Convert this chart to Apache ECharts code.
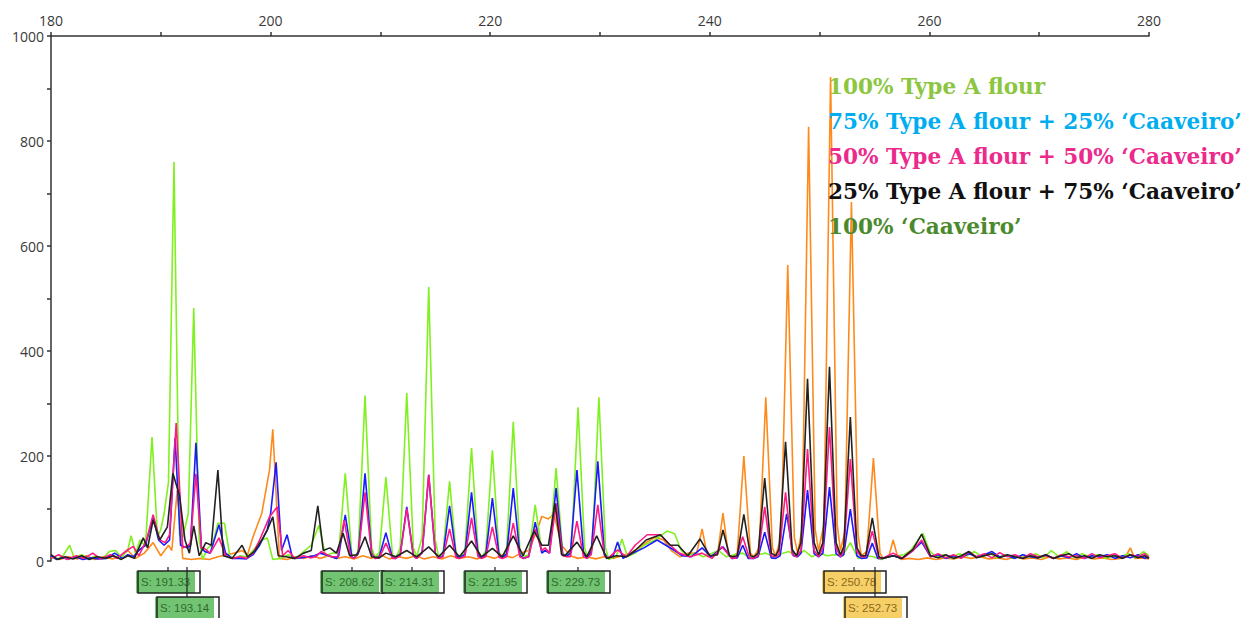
<!DOCTYPE html>
<html>
<head>
<meta charset="utf-8">
<script src="https://cdn.jsdelivr.net/npm/echarts@6/dist/echarts.min.js"></script>
<style>
html,body{margin:0;padding:0;background:#fff;}
#chart{width:1243px;height:618px;}
</style>
</head>
<body>
<div id="chart"></div>
<script>
// ---- data (fragment size in bp, fluorescence units) ----
const xTicks = [180, 200, 220, 240, 260, 280];
const yTicks = [0, 200, 400, 600, 800, 1000];

const seriesNames = [
  "100% Type A flour",
  "75% Type A flour + 25% \u2018Caaveiro\u2019",
  "50% Type A flour + 50% \u2018Caaveiro\u2019",
  "25% Type A flour + 75% \u2018Caaveiro\u2019",
  "100% \u2018Caaveiro\u2019"
];

const greenTrace = [[180,8],[180.5,3],[181.1,10],[181.7,30],[182.1,6],[182.8,12],[183.4,4],[184.1,10],[184.7,4],[185.3,18],[185.9,20],[186.4,6],[187.0,22],[187.3,48],[187.7,14],[188.1,40],[188.6,28],[189.2,236],[189.7,46],[190.0,60],[190.3,90],[190.7,150],[191.2,760],[191.7,50],[192.0,45],[192.5,90],[193.0,482],[193.5,40],[193.8,3],[194.3,25],[194.7,30],[195.2,72],[195.8,72],[196.3,8],[196.8,5],[197.2,10],[197.9,8],[198.6,25],[199.2,40],[199.7,44],[200.2,3],[200.9,5],[201.6,12],[202.3,4],[203.0,18],[203.7,30],[204.4,68],[205.0,10],[205.6,15],[206.2,16],[206.8,167],[207.4,12],[207.9,10],[208.0,30],[208.6,315],[209.2,25],[209.5,8],[209.9,16],[210.5,160],[211.1,12],[211.4,5],[211.8,25],[212.4,320],[213.0,25],[213.3,8],[213.8,45],[214.4,522],[215.0,40],[215.3,8],[215.7,15],[216.3,152],[216.9,12],[217.2,5],[217.7,20],[218.3,215],[218.9,18],[219.2,5],[219.6,20],[220.2,211],[220.8,18],[221.1,5],[221.5,25],[222.1,265],[222.7,22],[223.0,8],[223.5,12],[224.1,107],[224.7,18],[225.0,20],[225.4,18],[226.0,177],[226.6,15],[227.0,8],[227.4,25],[228.0,293],[228.6,25],[228.9,5],[229.3,25],[229.9,312],[230.5,25],[230.8,3],[231.5,10],[232.0,42],[232.5,8],[233.2,15],[234.0,30],[235.0,40],[236.1,57],[236.8,52],[237.4,20],[238.0,10],[238.7,15],[239.4,8],[240.1,14],[240.8,20],[241.5,8],[242.2,12],[243.0,15],[243.7,5],[244.4,12],[245.1,15],[245.8,8],[246.5,14],[247.2,18],[247.9,10],[248.6,20],[249.3,8],[250.0,15],[250.7,10],[251.4,12],[252.1,10],[252.8,35],[253.5,5],[254.2,10],[254.9,8],[255.6,3],[256.3,8],[257.0,10],[257.7,12],[258.3,20],[258.8,35],[259.4,53],[260.0,20],[260.6,8],[261.3,12],[262.0,6],[262.7,14],[263.4,10],[264.1,18],[264.8,8],[265.5,14],[266.2,6],[266.9,12],[267.6,5],[268.3,10],[269.0,8],[269.7,14],[270.4,6],[271.1,20],[271.8,8],[272.5,18],[273.2,6],[273.9,14],[274.6,8],[275.3,12],[276.0,5],[276.7,10],[277.4,8],[278.1,14],[278.8,6],[279.5,18],[280,10]];

const blueTrace = [[180,10],[180.5,3],[181.0,6],[181.6,4],[182.2,8],[182.9,3],[183.6,6],[184.3,4],[185.0,5],[185.8,15],[186.5,5],[187.0,12],[187.5,8],[188.0,20],[188.6,30],[189.3,84],[189.8,40],[190.3,30],[190.8,40],[191.3,234],[191.8,30],[192.4,25],[192.7,30],[193.2,225],[193.7,25],[194.0,18],[194.5,15],[195.3,69],[195.9,15],[196.5,5],[197.2,5],[197.8,4],[198.4,12],[199.0,30],[199.7,60],[200.0,90],[200.5,188],[201.0,20],[201.5,50],[202.0,5],[202.7,6],[203.4,8],[204.0,10],[204.5,15],[205.3,10],[206.0,5],[206.2,10],[206.8,88],[207.4,8],[207.6,5],[208.0,18],[208.6,167],[209.2,15],[209.5,5],[209.9,8],[210.5,54],[211.1,6],[211.4,5],[211.8,12],[212.4,103],[213.0,10],[213.3,5],[213.8,16],[214.4,164],[215.0,15],[215.3,5],[215.7,10],[216.3,105],[216.9,10],[217.2,5],[217.7,13],[218.3,131],[218.9,12],[219.2,5],[219.6,12],[220.2,120],[220.8,12],[221.1,5],[221.5,14],[222.1,139],[222.7,12],[223.0,5],[223.5,8],[224.1,74],[224.7,15],[225.0,20],[225.4,15],[226.0,139],[226.6,12],[227.0,10],[227.3,15],[227.9,173],[228.5,15],[228.8,5],[229.2,18],[229.8,190],[230.4,15],[230.7,5],[231.2,10],[231.6,36],[232.1,5],[233.0,15],[234.0,25],[235.2,40],[236.0,30],[236.8,20],[237.5,10],[238.3,8],[239.3,25],[240.1,8],[241.2,27],[242.0,5],[242.5,6],[243.0,30],[243.5,5],[244.0,5],[244.4,8],[245.0,55],[245.6,6],[246.0,5],[246.4,10],[247.0,90],[247.6,10],[248.0,8],[248.3,15],[248.9,135],[249.5,14],[249.9,8],[250.3,15],[250.9,141],[251.5,14],[251.9,8],[252.2,12],[252.8,99],[253.4,10],[253.8,5],[254.3,6],[254.8,34],[255.3,5],[255.7,5],[256.7,10],[257.5,5],[258.5,20],[259.3,36],[260.1,8],[260.8,12],[261.5,5],[262.2,10],[262.9,6],[263.6,14],[264.3,8],[265.0,12],[265.7,18],[266.4,8],[267.1,10],[267.8,5],[268.5,12],[269.2,8],[269.9,6],[270.6,12],[271.3,5],[272.0,10],[272.7,6],[273.4,14],[274.1,5],[274.8,10],[275.5,8],[276.2,12],[276.9,5],[277.6,10],[278.3,6],[279.0,12],[279.6,5],[280,8]];

const pinkTrace = [[180,5],[180.7,12],[181.5,3],[182.3,10],[183.0,5],[183.8,15],[184.5,4],[185.4,12],[186.0,5],[186.9,20],[187.5,28],[188.0,10],[188.7,40],[189.3,88],[189.9,40],[190.4,35],[190.8,50],[191.4,263],[192.0,25],[192.5,30],[192.7,35],[193.2,166],[193.7,25],[193.9,25],[194.5,15],[195.3,44],[195.9,10],[196.5,5],[197.2,8],[197.8,5],[198.4,15],[199.0,40],[199.9,84],[200.6,103],[201.1,10],[201.6,20],[202.2,5],[203.0,10],[203.6,6],[204.1,8],[204.6,18],[205.5,8],[206.1,8],[206.7,78],[207.3,8],[207.6,5],[208.0,15],[208.6,131],[209.2,13],[209.5,5],[209.9,6],[210.5,34],[211.1,5],[211.4,5],[211.8,10],[212.4,100],[213.0,10],[213.3,5],[213.8,16],[214.4,164],[215.0,15],[215.3,5],[215.7,8],[216.3,61],[216.9,6],[217.2,5],[217.7,9],[218.3,82],[218.9,8],[219.2,5],[219.6,8],[220.2,65],[220.8,7],[221.1,5],[221.5,8],[222.1,72],[222.7,8],[223.0,5],[223.5,8],[224.1,61],[224.7,20],[225.0,25],[225.4,15],[226.0,110],[226.6,10],[227.0,8],[227.3,8],[227.9,76],[228.5,8],[228.8,5],[229.2,12],[229.8,107],[230.4,10],[230.7,5],[231.6,21],[232.4,8],[233.2,30],[234.3,50],[235.5,50],[236.4,30],[237.2,15],[238.2,8],[239.3,15],[240.2,5],[241.1,27],[242.0,5],[242.4,6],[243.0,46],[243.6,6],[244.0,5],[244.4,10],[245.0,103],[245.6,10],[246.0,8],[246.3,13],[246.9,131],[247.5,13],[247.9,8],[248.3,20],[248.9,213],[249.5,20],[249.9,8],[250.3,25],[250.9,255],[251.5,25],[251.9,8],[252.2,20],[252.8,194],[253.4,18],[253.8,8],[254.2,8],[254.8,57],[255.4,6],[255.7,5],[256.7,15],[257.6,5],[258.5,20],[259.3,40],[260.1,8],[260.8,14],[261.5,6],[262.2,12],[262.9,5],[263.6,18],[264.3,8],[265.0,14],[265.7,6],[266.4,16],[267.1,8],[267.8,12],[268.5,5],[269.2,14],[269.9,8],[270.6,10],[271.3,5],[272.0,12],[272.7,8],[273.4,10],[274.1,5],[274.8,14],[275.5,6],[276.2,10],[276.9,14],[277.6,5],[278.3,12],[279.0,8],[279.6,14],[280,6]];

const blackTrace = [[180,12],[180.6,3],[181.3,8],[182.0,4],[182.8,10],[183.5,3],[184.2,8],[185.0,5],[185.7,10],[186.4,3],[187.0,10],[187.6,5],[188.4,44],[188.8,25],[189.3,78],[189.9,40],[190.6,65],[191.1,167],[191.7,125],[192.2,40],[192.6,15],[193.0,67],[193.5,10],[194.1,35],[194.6,30],[195.2,173],[195.7,10],[196.5,5],[197.4,30],[197.9,8],[198.6,20],[199.2,40],[199.7,59],[200.2,84],[200.7,10],[201.4,8],[202.2,5],[203.0,15],[203.7,20],[204.3,105],[204.8,20],[205.4,25],[206.0,15],[206.6,53],[207.2,10],[207.9,12],[208.6,46],[209.2,8],[209.9,6],[210.5,15],[211.4,8],[212.4,20],[213.3,8],[214.4,27],[215.3,8],[216.3,30],[217.2,8],[218.3,38],[219.2,8],[220.2,24],[221.1,8],[222.1,48],[223.0,10],[224.0,57],[224.7,30],[225.3,30],[225.9,110],[226.5,12],[226.8,10],[227.9,36],[228.8,8],[229.7,48],[230.6,5],[231.5,10],[232.4,8],[233.2,20],[234.2,40],[235.5,50],[236.4,30],[237.1,30],[238.0,10],[239.1,42],[240.0,10],[240.7,12],[241.2,59],[241.8,10],[242.1,8],[242.5,10],[243.1,89],[243.7,10],[244.0,8],[244.4,15],[245.0,158],[245.6,15],[246.0,10],[246.3,22],[246.9,227],[247.5,22],[247.9,10],[248.3,35],[248.9,347],[249.5,35],[249.9,12],[250.3,35],[250.9,370],[251.5,35],[251.9,12],[252.2,27],[252.8,274],[253.4,25],[253.8,10],[254.2,10],[254.8,82],[255.4,8],[255.7,5],[256.7,10],[257.5,5],[258.5,22],[259.3,51],[260.1,10],[260.8,6],[261.5,12],[262.2,5],[262.9,10],[263.6,18],[264.3,6],[265.0,10],[265.7,14],[266.4,6],[267.1,12],[267.8,8],[268.5,5],[269.2,10],[269.9,6],[270.6,12],[271.3,5],[272.0,10],[272.7,14],[273.4,6],[274.1,10],[274.8,5],[275.5,12],[276.2,8],[276.9,10],[277.6,5],[278.3,12],[279.0,6],[279.6,10],[280,5]];

const orangeTrace = [[180,8],[180.8,3],[181.6,8],[182.4,4],[183.2,10],[184.0,3],[184.8,8],[185.6,4],[186.4,10],[187.0,20],[187.7,5],[188.5,15],[189.3,35],[190.0,10],[190.7,30],[191.0,20],[191.5,135],[192.0,5],[192.8,3],[193.6,5],[194.4,3],[195.2,8],[196.0,12],[196.7,15],[197.4,20],[197.9,12],[198.4,46],[199.2,91],[199.9,173],[200.2,251],[200.8,5],[201.5,3],[202.3,8],[203.0,5],[203.8,10],[204.5,5],[205.3,10],[206.0,5],[206.8,8],[207.6,4],[208.4,10],[209.2,5],[210.0,12],[210.8,4],[211.6,8],[212.4,5],[213.2,10],[214.0,4],[214.8,8],[215.6,4],[216.4,10],[217.2,5],[218.0,8],[218.8,4],[219.6,10],[220.4,5],[221.2,12],[222.0,6],[222.8,15],[223.5,20],[224.3,60],[224.7,85],[225.3,80],[225.8,90],[226.5,30],[227.3,10],[228.0,5],[228.8,8],[229.6,4],[230.4,8],[231.2,5],[232.0,10],[232.8,15],[233.5,25],[234.2,35],[235.0,45],[235.8,40],[236.5,20],[237.3,8],[238.0,15],[238.8,15],[239.3,61],[239.8,8],[240.3,10],[240.7,12],[241.2,91],[241.7,10],[242.0,8],[242.5,15],[243.1,200],[243.7,15],[244.0,8],[244.5,25],[245.1,312],[245.7,25],[246.0,10],[246.5,45],[247.1,564],[247.7,45],[248.0,15],[248.4,60],[249.0,827],[249.6,60],[249.9,20],[250.4,70],[251.0,922],[251.6,70],[251.9,20],[252.3,55],[252.9,684],[253.5,50],[253.8,10],[254.3,18],[254.9,196],[255.5,15],[255.8,5],[256.3,8],[256.7,40],[257.1,8],[257.4,3],[258.2,5],[259.0,3],[259.8,6],[260.6,3],[261.4,6],[262.2,4],[263.0,8],[263.8,5],[264.6,8],[265.4,4],[266.2,6],[267.0,3],[267.8,8],[268.6,4],[269.4,6],[270.2,3],[271.0,8],[271.8,4],[272.6,6],[273.4,3],[274.2,8],[275.0,4],[275.8,6],[276.6,3],[277.4,5],[277.9,10],[278.3,25],[278.7,5],[279.4,6],[280,4]];

// peak size annotations
const sizeLabels = [191.33, 193.14, 208.62, 214.31, 221.95, 229.73, 250.78, 252.73];
const labelRow   = [0, 1, 0, 0, 0, 0, 0, 1];
const labelKind  = ['g', 'g', 'g', 'g', 'g', 'g', 'y', 'y'];

// ---- layout / style (not data) ----
const labelShiftPx = [-7, -8, -13, -16, -17, -19, 26, 25];
const legendColors = ['#8cc63f', '#00aeef', '#ec2a8c', '#111111', '#4b8a2c'];

const chart = echarts.init(document.getElementById('chart'), null, {renderer: 'svg'});

function lineSeries(name, data, color, z) {
  return {
    name: name, type: 'line', data: data, showSymbol: false, symbol: 'none',
    lineStyle: {color: color, width: 1.6}, z: z, animation: false, silent: true
  };
}

const legendGraphics = seriesNames.map((t, i) => ({
  type: 'text', left: 828, top: 75 + i * 35, z: 100,
  style: {text: t, fill: legendColors[i], font: 'bold 21.6px "DejaVu Serif"'}
}));

const option = {
  animation: false,
  backgroundColor: '#ffffff',
  grid: {left: 51, right: 94, top: 36, bottom: 57, containLabel: false},
  xAxis: {
    type: 'value', position: 'top', min: 180, max: 280, interval: 10,
    axisLine: {show: true, onZero: false, lineStyle: {color: '#333', width: 1.5}},
    axisTick: {show: true, inside: false, length: 4, lineStyle: {color: '#333', width: 1.5}},
    splitLine: {show: false},
    axisLabel: {
      margin: 9, color: '#3a3a3a', fontSize: 14, fontFamily: 'Open Sans',
      formatter: v => (xTicks.indexOf(v) >= 0 ? String(v) : '')
    }
  },
  yAxis: {
    type: 'value', min: 0, max: 1000, interval: 100,
    axisLine: {show: true, lineStyle: {color: '#333', width: 1.5}},
    axisTick: {show: true, inside: false, length: 4, lineStyle: {color: '#333', width: 1.5}},
    splitLine: {show: false},
    axisLabel: {
      margin: 7, color: '#3a3a3a', fontSize: 14, fontFamily: 'Open Sans',
      formatter: v => (yTicks.indexOf(v) >= 0 ? String(v) : '')
    }
  },
  graphic: legendGraphics,
  series: [
    lineSeries('orange', orangeTrace, '#ff8a1c', 2),
    lineSeries(seriesNames[0], greenTrace, '#80f020', 3),
    lineSeries(seriesNames[1], blueTrace, '#1a1aff', 4),
    lineSeries(seriesNames[2], pinkTrace, '#ff1a84', 5),
    lineSeries(seriesNames[3], blackTrace, '#222222', 6),
    {
      type: 'custom', silent: true, clip: false, z: 10,
      data: sizeLabels.map((v, i) => [v, 0, i]),
      encode: {x: 0, y: 1},
      renderItem: function (params, api) {
        const i = api.value(2);
        const p = api.coord([api.value(0), 0]);
        const cx = Math.round(p[0] + labelShiftPx[i]);
        const top = Math.round(p[1] + 10 + labelRow[i] * 26);
        const isY = labelKind[i] === 'y';
        return {
          type: 'group',
          children: [
            {type: 'line', shape: {x1: cx, y1: p[1] + 6, x2: cx, y2: top},
             style: {stroke: '#222', lineWidth: 1.2}},
            {type: 'rect', shape: {x: cx - 32, y: top, width: 59, height: 22},
             style: {fill: isY ? '#f6cf66' : '#72c472'}},
            {type: 'rect', shape: {x: cx - 30, y: top, width: 62, height: 22},
             style: {fill: 'none', stroke: '#222', lineWidth: 1.5}},
            {type: 'text', style: {
              text: 'S: ' + api.value(0).toFixed(2), x: cx - 27, y: top + 11,
              verticalAlign: 'middle', align: 'left',
              fill: isY ? '#8a6a1e' : '#2f6a2f', font: '11.5px "Liberation Sans"'}}
          ]
        };
      }
    }
  ]
};
chart.setOption(option);
</script>
</body>
</html>
